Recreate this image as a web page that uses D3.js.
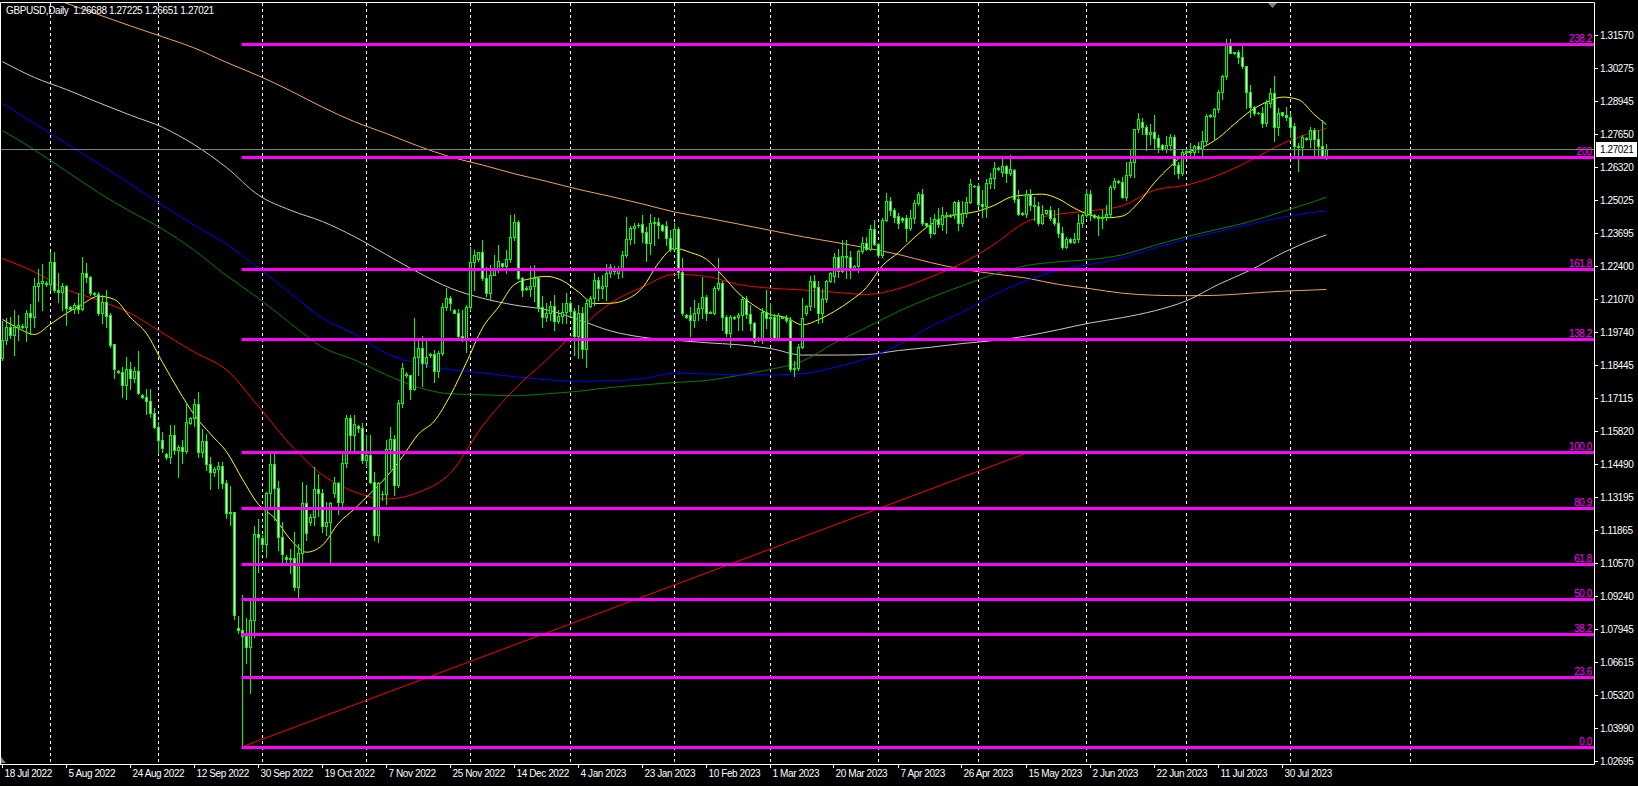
<!DOCTYPE html>
<html>
<head>
<meta charset="utf-8">
<script src="https://cdn.jsdelivr.net/npm/d3@7"></script>
<style>
  html, body { margin: 0; padding: 0; background: #000; overflow: hidden; }
  svg { display: block; }
  text { font-family: "Liberation Sans", Arial, sans-serif; font-size: 10px; letter-spacing: -0.4px; }
</style>
</head>
<body>
<svg id="chart"></svg>
<script>
// GBPUSD daily, 18 Jul 2022 .. 11 Aug 2023 (broker with sunday bars)
// each bar: [open, high, low, close]
const candles = [
  [1.1872,1.2020,1.1865,1.1945],[1.1945,1.2030,1.1930,1.1996],[1.1996,1.2035,1.1950,1.1963],[1.1963,1.2063,1.1884,1.1995],[1.1995,1.2045,1.1945,1.2003],
  [1.2000,1.2008,1.1990,1.1994],[1.1994,1.2063,1.1938,1.2050],[1.2050,1.2089,1.1967,1.2034],[1.2034,1.2189,1.1997,1.2158],[1.2158,1.2225,1.2100,1.2172],[1.2172,1.2248,1.2063,1.2180],
  [1.2170,1.2178,1.2160,1.2165],[1.2165,1.2295,1.2142,1.2255],[1.2255,1.2295,1.2136,1.2143],[1.2143,1.2209,1.2096,1.2133],[1.2133,1.2170,1.2063,1.2158],[1.2158,1.2162,1.2003,1.2070],
  [1.2075,1.2080,1.2062,1.2066],[1.2066,1.2092,1.2050,1.2082],[1.2082,1.2129,1.2050,1.2068],[1.2068,1.2275,1.2063,1.2211],[1.2211,1.2251,1.2175,1.2193],[1.2193,1.2198,1.2123,1.2132],
  [1.2127,1.2136,1.2122,1.2130],[1.2127,1.2136,1.2043,1.2052],[1.2052,1.2122,1.2010,1.2096],[1.2096,1.2142,1.1997,1.2039],[1.2043,1.2050,1.1917,1.1924],[1.1928,1.1930,1.1791,1.1827],
  [1.1820,1.1826,1.1812,1.1818],[1.1818,1.1837,1.1718,1.1765],[1.1765,1.1877,1.1711,1.1827],[1.1827,1.1857,1.1751,1.1791],[1.1791,1.1835,1.1777,1.1822],[1.1822,1.1901,1.1731,1.1734],
  [1.1725,1.1730,1.1712,1.1718],[1.1718,1.1748,1.1650,1.1700],[1.1700,1.1751,1.1638,1.1654],[1.1654,1.1672,1.1592,1.1596],[1.1596,1.1618,1.1493,1.1546],[1.1546,1.1580,1.1499,1.1513],
  [1.1490,1.1495,1.1470,1.1480],[1.1480,1.1605,1.1453,1.1566],[1.1566,1.1605,1.1489,1.1506],[1.1506,1.1527,1.1400,1.1520],[1.1520,1.1546,1.1453,1.1502],[1.1502,1.1692,1.1495,1.1619],
  [1.1615,1.1638,1.1610,1.1632],[1.1632,1.1710,1.1600,1.1689],[1.1689,1.1738,1.1479,1.1499],[1.1499,1.1589,1.1480,1.1542],[1.1542,1.1570,1.1425,1.1450],[1.1450,1.1480,1.1350,1.1420],
  [1.1420,1.1437,1.1404,1.1430],[1.1430,1.1458,1.1354,1.1441],[1.1441,1.1460,1.1354,1.1377],[1.1377,1.1387,1.1235,1.1255],[1.1255,1.1364,1.1208,1.1258],[1.1258,1.1261,1.0834,1.0850],
  [1.0800,1.0846,1.0778,1.0792],[1.0792,1.0930,1.0327,1.0768],[1.0768,1.0837,1.0658,1.0724],[1.0724,1.0910,1.0539,1.0830],[1.0830,1.1204,1.0762,1.1171],[1.1171,1.1231,1.1023,1.1160],
  [1.1155,1.1170,1.1110,1.1133],[1.1133,1.1341,1.1082,1.1337],[1.1337,1.1493,1.1281,1.1451],[1.1451,1.1496,1.1228,1.1354],[1.1354,1.1383,1.1109,1.1159],[1.1159,1.1222,1.1056,1.1092],
  [1.1082,1.1090,1.1060,1.1072],[1.1072,1.1112,1.1019,1.1076],[1.1076,1.1182,1.0950,1.0960],[1.0960,1.1133,1.0920,1.1098],[1.1098,1.1381,1.1056,1.1297],[1.1297,1.1367,1.1149,1.1175],
  [1.1222,1.1250,1.1210,1.1241],[1.1241,1.1440,1.1208,1.1350],[1.1350,1.1411,1.1242,1.1337],[1.1337,1.1350,1.1182,1.1204],[1.1204,1.1301,1.1168,1.1222],[1.1222,1.1301,1.1056,1.1297],
  [1.1334,1.1400,1.1320,1.1374],[1.1374,1.1381,1.1252,1.1301],[1.1301,1.1500,1.1271,1.1456],[1.1456,1.1646,1.1440,1.1635],[1.1635,1.1645,1.1500,1.1566],[1.1566,1.1645,1.1500,1.1610],
  [1.1600,1.1605,1.1580,1.1594],[1.1594,1.1613,1.1454,1.1467],[1.1467,1.1566,1.1441,1.1487],[1.1487,1.1566,1.1374,1.1381],[1.1381,1.1420,1.1148,1.1168],[1.1168,1.1380,1.1141,1.1374],
  [1.1330,1.1342,1.1308,1.1332],[1.1332,1.1547,1.1290,1.1509],[1.1509,1.1597,1.1430,1.1549],[1.1549,1.1566,1.1327,1.1367],[1.1367,1.1706,1.1360,1.1692],[1.1692,1.1852,1.1678,1.1832],
  [1.1810,1.1815,1.1798,1.1805],[1.1805,1.1805,1.1708,1.1748],[1.1748,1.2031,1.1745,1.1878],[1.1878,1.1938,1.1805,1.1911],[1.1911,1.1958,1.1759,1.1854],[1.1854,1.1944,1.1838,1.1878],
  [1.1885,1.1892,1.1876,1.1888],[1.1888,1.1905,1.1775,1.1822],[1.1822,1.1902,1.1798,1.1891],[1.1891,1.2090,1.1885,1.2077],[1.2077,1.2150,1.2064,1.2110],[1.2110,1.2119,1.2064,1.2090],
  [1.2063,1.2068,1.2050,1.2053],[1.2053,1.2066,1.1951,1.1958],[1.1958,1.2063,1.1938,1.1946],[1.1946,1.2084,1.1898,1.2074],[1.2074,1.2313,1.2064,1.2256],[1.2256,1.2302,1.2143,1.2282],
  [1.2265,1.2295,1.2260,1.2292],[1.2292,1.2342,1.2183,1.2190],[1.2190,1.2236,1.2120,1.2130],[1.2130,1.2243,1.2103,1.2203],[1.2203,1.2282,1.2203,1.2229],[1.2229,1.2322,1.2216,1.2260],
  [1.2250,1.2252,1.2236,1.2240],[1.2240,1.2302,1.2210,1.2265],[1.2265,1.2442,1.2256,1.2353],[1.2353,1.2446,1.2342,1.2415],[1.2415,1.2422,1.2186,1.2190],[1.2190,1.2196,1.2117,1.2143],
  [1.2150,1.2157,1.2141,1.2146],[1.2146,1.2238,1.2120,1.2158],[1.2158,1.2242,1.2100,1.2190],[1.2190,1.2195,1.2060,1.2074],[1.2074,1.2117,1.1995,1.2034],[1.2034,1.2090,1.2020,1.2050],
  [1.2050,1.2100,1.2024,1.2080],[1.2080,1.2123,1.1984,1.2021],[1.2021,1.2064,1.2011,1.2040],[1.2040,1.2090,1.2010,1.2057],[1.2057,1.2130,1.2011,1.2090],
  [1.2090,1.2100,1.2040,1.2061],[1.2061,1.2070,1.1885,1.1960],[1.1960,1.2085,1.1871,1.2053],[1.2053,1.2077,1.1871,1.1907],[1.1907,1.2103,1.1838,1.2090],
  [1.2080,1.2117,1.2075,1.2110],[1.2110,1.2210,1.2084,1.2183],[1.2183,1.2193,1.2103,1.2150],[1.2150,1.2203,1.2110,1.2157],[1.2157,1.2247,1.2103,1.2212],[1.2212,1.2247,1.2194,1.2233],
  [1.2225,1.2240,1.2207,1.2220],[1.2210,1.2239,1.2190,1.2223],[1.2223,1.2296,1.2194,1.2282],[1.2282,1.2432,1.2276,1.2345],[1.2345,1.2398,1.2326,1.2389],[1.2389,1.2411,1.2329,1.2398],
  [1.2400,1.2408,1.2395,1.2402],[1.2406,1.2442,1.2335,1.2375],[1.2375,1.2395,1.2260,1.2329],[1.2329,1.2446,1.2287,1.2408],[1.2408,1.2435,1.2322,1.2415],[1.2415,1.2428,1.2349,1.2403],
  [1.2400,1.2405,1.2379,1.2383],[1.2397,1.2419,1.2322,1.2349],[1.2349,1.2382,1.2296,1.2305],[1.2305,1.2408,1.2302,1.2385],[1.2385,1.2395,1.2190,1.2216],[1.2216,1.2269,1.2044,1.2050],
  [1.2044,1.2048,1.2030,1.2035],[1.2044,1.2077,1.1958,1.2024],[1.2024,1.2103,1.1997,1.2050],[1.2050,1.2090,1.2024,1.2070],[1.2070,1.2193,1.2030,1.2114],[1.2114,1.2124,1.2024,1.2053],
  [1.2050,1.2061,1.2050,1.2055],[1.2050,1.2160,1.2048,1.2150],[1.2150,1.2269,1.2143,1.2172],[1.2172,1.2180,1.1984,1.2037],[1.2037,1.2044,1.1958,1.1971],[1.1971,1.2044,1.1918,1.2037],
  [1.2035,1.2040,1.2028,1.2030],[1.2035,1.2052,1.1984,1.2045],[1.2045,1.2114,1.1984,1.2106],[1.2106,1.2117,1.2031,1.2048],[1.2048,1.2084,1.1984,1.2013],[1.2013,1.2017,1.1931,1.1938],
  [1.1945,1.1955,1.1940,1.1951],[1.1951,1.2071,1.1931,1.2057],[1.2057,1.2143,1.1990,1.2030],[1.2030,1.2090,1.1951,1.2037],[1.2037,1.2047,1.1944,1.1947],[1.1947,1.2050,1.1944,1.2044],
  [1.2035,1.2040,1.2030,1.2032],[1.2032,1.2045,1.2015,1.2025],[1.2025,1.2037,1.1820,1.1830],[1.1830,1.1860,1.1802,1.1834],[1.1834,1.1930,1.1825,1.1918],[1.1918,1.2110,1.1911,1.2030],
  [1.2050,1.2085,1.2045,1.2080],[1.2080,1.2199,1.2064,1.2180],[1.2180,1.2203,1.2077,1.2154],[1.2154,1.2180,1.2010,1.2053],[1.2053,1.2146,1.2017,1.2106],[1.2106,1.2183,1.2097,1.2180],
  [1.2180,1.2215,1.2175,1.2212],[1.2200,1.2289,1.2176,1.2276],[1.2276,1.2305,1.2196,1.2220],[1.2220,1.2342,1.2216,1.2278],[1.2278,1.2342,1.2190,1.2275],[1.2275,1.2296,1.2190,1.2225],
  [1.2230,1.2243,1.2225,1.2239],[1.2239,1.2302,1.2216,1.2296],[1.2296,1.2353,1.2289,1.2329],[1.2329,1.2353,1.2302,1.2305],[1.2305,1.2402,1.2302,1.2384],[1.2384,1.2422,1.2322,1.2326],
  [1.2326,1.2330,1.2275,1.2282],[1.2282,1.2428,1.2276,1.2421],[1.2421,1.2528,1.2419,1.2498],[1.2498,1.2514,1.2441,1.2459],[1.2459,1.2468,1.2415,1.2435],[1.2437,1.2448,1.2388,1.2411],
  [1.2428,1.2432,1.2415,1.2420],[1.2428,1.2441,1.2339,1.2388],[1.2388,1.2461,1.2382,1.2428],[1.2428,1.2501,1.2408,1.2490],[1.2490,1.2534,1.2481,1.2525],[1.2525,1.2544,1.2402,1.2411],
  [1.2408,1.2410,1.2398,1.2402],[1.2402,1.2435,1.2353,1.2371],[1.2371,1.2445,1.2366,1.2424],[1.2424,1.2468,1.2392,1.2406],[1.2406,1.2472,1.2382,1.2441],[1.2441,1.2455,1.2368,1.2438],
  [1.2440,1.2445,1.2432,1.2436],[1.2445,1.2498,1.2428,1.2494],[1.2494,1.2501,1.2382,1.2411],[1.2411,1.2498,1.2398,1.2448],[1.2448,1.2514,1.2435,1.2494],[1.2494,1.2583,1.2490,1.2565],
  [1.2558,1.2562,1.2552,1.2555],[1.2557,1.2570,1.2477,1.2485],[1.2485,1.2541,1.2435,1.2478],[1.2478,1.2583,1.2435,1.2567],[1.2567,1.2610,1.2550,1.2590],[1.2590,1.2650,1.2547,1.2627],
  [1.2628,1.2632,1.2622,1.2625],[1.2612,1.2666,1.2596,1.2636],[1.2636,1.2640,1.2573,1.2609],[1.2609,1.2680,1.2600,1.2625],[1.2622,1.2626,1.2494,1.2503],[1.2503,1.2540,1.2441,1.2445],
  [1.2448,1.2452,1.2440,1.2445],[1.2445,1.2540,1.2434,1.2524],[1.2524,1.2543,1.2461,1.2481],[1.2481,1.2514,1.2421,1.2478],[1.2478,1.2494,1.2401,1.2408],[1.2408,1.2481,1.2405,1.2445],
  [1.2450,1.2462,1.2445,1.2460],[1.2461,1.2475,1.2420,1.2431],[1.2431,1.2461,1.2400,1.2410],[1.2410,1.2467,1.2355,1.2368],[1.2368,1.2395,1.2305,1.2312],[1.2312,1.2355,1.2308,1.2344],
  [1.2344,1.2350,1.2328,1.2335],[1.2335,1.2368,1.2328,1.2344],[1.2344,1.2445,1.2335,1.2408],[1.2408,1.2447,1.2395,1.2441],[1.2441,1.2543,1.2434,1.2524],[1.2524,1.2540,1.2421,1.2445],
  [1.2441,1.2445,1.2428,1.2432],[1.2432,1.2441,1.2362,1.2428],[1.2428,1.2461,1.2388,1.2435],[1.2435,1.2481,1.2421,1.2445],[1.2445,1.2560,1.2434,1.2553],[1.2553,1.2587,1.2543,1.2577],
  [1.2575,1.2580,1.2568,1.2572],[1.2572,1.2593,1.2508,1.2511],[1.2511,1.2653,1.2500,1.2600],[1.2600,1.2700,1.2594,1.2650],[1.2650,1.2785,1.2594,1.2782],[1.2782,1.2848,1.2770,1.2822],
  [1.2812,1.2825,1.2762,1.2790],[1.2790,1.2800,1.2700,1.2763],[1.2763,1.2802,1.2722,1.2770],[1.2770,1.2839,1.2706,1.2748],[1.2748,1.2760,1.2690,1.2713],
  [1.2718,1.2725,1.2700,1.2705],[1.2705,1.2755,1.2690,1.2718],[1.2718,1.2765,1.2700,1.2750],[1.2750,1.2760,1.2605,1.2640],[1.2640,1.2650,1.2590,1.2610],[1.2610,1.2700,1.2600,1.2690],
  [1.2695,1.2700,1.2685,1.2690],[1.2690,1.2727,1.2680,1.2693],[1.2693,1.2720,1.2675,1.2716],[1.2716,1.2730,1.2690,1.2705],[1.2705,1.2777,1.2672,1.2737],[1.2737,1.2843,1.2724,1.2835],
  [1.2838,1.2843,1.2830,1.2834],[1.2834,1.2866,1.2742,1.2862],[1.2862,1.2939,1.2852,1.2932],[1.2932,1.2999,1.2901,1.2992],[1.2992,1.3141,1.2981,1.3124],[1.3127,1.3141,1.3084,1.3087],
  [1.3088,1.3091,1.3080,1.3084],[1.3088,1.3098,1.3047,1.3068],[1.3068,1.3121,1.3025,1.3034],[1.3034,1.3034,1.2866,1.2932],[1.2932,1.2958,1.2832,1.2870],[1.2870,1.2875,1.2839,1.2848],
  [1.2848,1.2852,1.2842,1.2845],[1.2848,1.2872,1.2793,1.2808],[1.2808,1.2899,1.2795,1.2888],[1.2888,1.2945,1.2870,1.2925],[1.2925,1.2994,1.2737,1.2790],[1.2790,1.2865,1.2760,1.2846],
  [1.2852,1.2852,1.2835,1.2840],[1.2840,1.2869,1.2819,1.2830],[1.2830,1.2846,1.2750,1.2793],[1.2795,1.2806,1.2680,1.2716],[1.2716,1.2727,1.2618,1.2712],[1.2712,1.2760,1.2680,1.2750],
  [1.2745,1.2753,1.2740,1.2748],[1.2743,1.2790,1.2713,1.2779],[1.2779,1.2786,1.2680,1.2743],[1.2743,1.2779,1.2680,1.2716],[1.2716,1.2819,1.2666,1.2669],[1.26688,1.27225,1.26651,1.27021]
];

// moving averages, [bar index, price]
const maYellow = [[0,1.2026],[4,1.1990],[8,1.1966],[12,1.2007],[16,1.2050],[20,1.2087],[24,1.2118],[28,1.2105],[32,1.2033],[36,1.1970],[40,1.1855],[44,1.1745],[48,1.1645],[52,1.1570],[56,1.1500],[60,1.1390],[64,1.1290],[68,1.1236],[72,1.1150],[76,1.1100],[80,1.1128],[84,1.1215],[88,1.1272],[92,1.1335],[96,1.1400],[100,1.1480],[104,1.1570],[108,1.1622],[112,1.1725],[116,1.1855],[120,1.1992],[124,1.2075],[128,1.2165],[132,1.2188],[136,1.2197],[140,1.2180],[144,1.2135],[148,1.2089],[152,1.2090],[156,1.2105],[160,1.2152],[164,1.2250],[168,1.2309],[172,1.2292],[176,1.2265],[180,1.2200],[184,1.2130],[188,1.2080],[192,1.2045],[196,1.2033],[200,1.2004],[204,1.2025],[208,1.2058],[212,1.2100],[216,1.2153],[220,1.2240],[224,1.2292],[228,1.2352],[232,1.2403],[236,1.2435],[240,1.2445],[244,1.2457],[248,1.2480],[252,1.2512],[256,1.2521],[260,1.2524],[264,1.2505],[268,1.2468],[272,1.2440],[276,1.2430],[280,1.2437],[284,1.2490],[288,1.2570],[292,1.2635],[296,1.2688],[300,1.2710],[304,1.2748],[308,1.2803],[312,1.2855],[316,1.2890],[320,1.2910],[324,1.2900],[328,1.2840],[331,1.2800]];
const maRed = [[0,1.2268],[8,1.2215],[16,1.2145],[24,1.2102],[32,1.2050],[40,1.1972],[48,1.1895],[56,1.1825],[64,1.1680],[72,1.1527],[80,1.1408],[88,1.1340],[96,1.1312],[104,1.1338],[112,1.1415],[120,1.1602],[128,1.1748],[136,1.1865],[144,1.1985],[152,1.2090],[160,1.2155],[168,1.2205],[176,1.2197],[184,1.2165],[192,1.2150],[200,1.2143],[208,1.2134],[216,1.2125],[224,1.2148],[232,1.2194],[240,1.2250],[248,1.2325],[256,1.2414],[264,1.2444],[272,1.2458],[280,1.2478],[288,1.2540],[296,1.2560],[304,1.2600],[312,1.2658],[320,1.2725],[328,1.2772],[331,1.2786]];
const maGreen = [[0,1.2777],[8,1.2700],[16,1.2615],[24,1.2530],[32,1.2455],[40,1.2385],[48,1.2300],[56,1.2200],[64,1.2110],[72,1.2010],[80,1.1915],[88,1.1865],[96,1.1805],[104,1.1755],[112,1.1730],[120,1.1726],[128,1.1722],[136,1.1730],[144,1.1740],[152,1.1755],[160,1.1765],[168,1.1775],[176,1.1783],[184,1.1803],[192,1.1827],[200,1.1860],[208,1.1932],[216,1.1994],[224,1.2058],[232,1.2112],[240,1.2160],[248,1.2206],[256,1.2240],[264,1.2255],[272,1.2264],[280,1.2283],[288,1.2320],[296,1.2355],[304,1.2385],[312,1.2415],[320,1.2455],[328,1.2495],[331,1.2512]];
const maBlue = [[0,1.2885],[8,1.2805],[16,1.2725],[24,1.2645],[32,1.2565],[40,1.2480],[48,1.2400],[56,1.2325],[64,1.2230],[72,1.2130],[80,1.2030],[88,1.1968],[96,1.1890],[104,1.1850],[112,1.1826],[120,1.1813],[128,1.1798],[136,1.1786],[144,1.1780],[152,1.1782],[160,1.1790],[168,1.1812],[176,1.1809],[184,1.1805],[192,1.1805],[200,1.1810],[208,1.1835],[216,1.1870],[224,1.1925],[232,1.1997],[240,1.2055],[248,1.2125],[256,1.2180],[264,1.2222],[272,1.2245],[280,1.2270],[288,1.2310],[296,1.2345],[304,1.2375],[312,1.2405],[320,1.2432],[328,1.2452],[331,1.2457]];
const maSilver = [[0,1.3051],[8,1.2988],[16,1.2940],[24,1.2888],[32,1.2838],[40,1.2790],[48,1.2720],[56,1.2630],[64,1.2520],[72,1.2460],[80,1.2415],[88,1.2355],[96,1.2283],[104,1.2212],[112,1.2150],[120,1.2110],[128,1.2083],[136,1.2064],[144,1.2025],[152,1.1980],[160,1.1955],[168,1.1943],[176,1.1933],[184,1.1925],[192,1.1910],[200,1.1884],[208,1.1884],[216,1.1886],[224,1.1902],[232,1.1915],[240,1.1930],[248,1.1942],[256,1.1960],[264,1.1985],[272,1.2012],[280,1.2033],[288,1.2060],[296,1.2100],[304,1.2165],[312,1.2222],[320,1.2290],[328,1.2345],[331,1.2362]];
const maSandy = [[0,1.3374],[8,1.3328],[16,1.3283],[24,1.3238],[32,1.3193],[40,1.3150],[48,1.3105],[56,1.3048],[64,1.2995],[72,1.2935],[80,1.2870],[88,1.2812],[96,1.2765],[104,1.2715],[112,1.2672],[120,1.2640],[128,1.2605],[136,1.2575],[144,1.2543],[152,1.2515],[160,1.2485],[168,1.2453],[176,1.2430],[184,1.2405],[192,1.2380],[200,1.2355],[208,1.2333],[216,1.2310],[224,1.2284],[232,1.2252],[240,1.2225],[248,1.2207],[256,1.2190],[264,1.2165],[272,1.2148],[280,1.2130],[288,1.2122],[296,1.2120],[304,1.2122],[312,1.2130],[320,1.2138],[328,1.2143],[331,1.2145]];

// fibonacci object
const fibLow = 1.03264, fibHigh = 1.14997;
const fibStartBar = 60, fibEndBar = 257;
const fibLevels = [0, 23.6, 38.2, 50, 61.8, 80.9, 100, 138.2, 161.8, 200, 238.2];
const fibTexts = ["0.0", "23.6", "38.2", "50.0", "61.8", "80.9", "100.0", "138.2", "161.8", "200", "238.2"];

const priceTicks = ["1.31570","1.30275","1.28945","1.27650","1.26320","1.25025","1.23695","1.22400","1.21070","1.19740","1.18445","1.17115","1.15820","1.14490","1.13195","1.11865","1.10570","1.09240","1.07945","1.06615","1.05320","1.03990","1.02695"];

const dateTexts = ["18 Jul 2022","5 Aug 2022","24 Aug 2022","12 Sep 2022","30 Sep 2022","19 Oct 2022","7 Nov 2022","25 Nov 2022","14 Dec 2022","4 Jan 2023","23 Jan 2023","10 Feb 2023","1 Mar 2023","20 Mar 2023","7 Apr 2023","26 Apr 2023","15 May 2023","2 Jun 2023","22 Jun 2023","11 Jul 2023","30 Jul 2023"];
const dateBars = [0,16,32,48,64,80,96,112,128,144,160,176,192,208,224,240,256,272,288,304,320];

// first bar of each month -> vertical grid
const monthBars = [12,39,65,91,117,142,168,192,219,244,271,296,322,352];

const bid = 1.27021;
const title = "GBPUSD,Daily  1.26688 1.27225 1.26651 1.27021";

const W = 1638, H = 786;
const plotRight = 1594, plotTop = 2, plotBottom = 764;

const svg = d3.select("#chart").attr("width", W).attr("height", H)
    .style("background", "#000");

const x = d3.scaleLinear().domain([0, 331]).range([2.5, 1326.5]);
const y = d3.scaleLinear().domain([1.02695, 1.31570]).range([761, 35]);

svg.append("defs").append("clipPath").attr("id", "plot")
  .append("rect").attr("x", 0).attr("y", plotTop).attr("width", plotRight).attr("height", plotBottom - plotTop);

// vertical grid
svg.append("g").selectAll("line").data(monthBars).enter().append("line")
    .attr("x1", d => x(d)).attr("x2", d => x(d))
    .attr("y1", plotTop + 1).attr("y2", plotBottom)
    .attr("stroke", "#fff").attr("stroke-dasharray", "3,3");

const plot = svg.append("g").attr("clip-path", "url(#plot)");

// moving averages
const line = d3.line().x(d => x(d[0])).y(d => y(d[1])).curve(d3.curveMonotoneX);
const mas = [
  {d: maSandy, c: "#f4a460"},
  {d: maSilver, c: "#c8c8c8"},
  {d: maGreen, c: "#008000"},
  {d: maBlue, c: "#0000ff"},
  {d: maRed, c: "#ff0000"},
  {d: maYellow, c: "#ffff00"}
];
mas.forEach(m => {
  plot.append("path").attr("d", line(m.d))
    .attr("fill", "none").attr("stroke", m.c).attr("stroke-width", 1);
});

// fib trend line
plot.append("line")
    .attr("x1", x(fibStartBar)).attr("y1", y(fibLow))
    .attr("x2", x(fibEndBar)).attr("y2", y(fibHigh))
    .attr("stroke", "#ff0000").attr("stroke-width", 1);

// candles
const cg = plot.append("g");
candles.forEach((k, i) => {
  const [o, h, l, c] = k;
  const cx = x(i);
  const yo = Math.round(y(o)), yc = Math.round(y(c));
  const yh = Math.round(y(h)), yl = Math.round(y(l));
  cg.append("line").attr("x1", cx).attr("x2", cx).attr("y1", yh).attr("y2", yl + 1)
    .attr("stroke", "#00ff00");
  const top = Math.min(yo, yc), bot = Math.max(yo, yc);
  if (bot - top < 1) {
    cg.append("line").attr("x1", cx - 1.5).attr("x2", cx + 1.5)
      .attr("y1", top + 0.5).attr("y2", top + 0.5).attr("stroke", "#00ff00");
  } else {
    cg.append("rect").attr("x", cx - 1).attr("y", top + 0.5)
      .attr("width", 2).attr("height", bot - top)
      .attr("fill", c > o ? "#000" : "#fff")
      .attr("stroke", "#00ff00");
  }
});

// bid line
const yb = Math.round(y(bid)) + 0.5;
svg.append("line").attr("x1", 0).attr("x2", plotRight).attr("y1", yb).attr("y2", yb)
    .attr("stroke", "#808080");

// fib levels
const fg = svg.append("g");
fibLevels.forEach((lv, j) => {
  const fy = Math.round(y(fibLow + lv / 100 * (fibHigh - fibLow))) + 0.5;
  fg.append("line").attr("x1", x(fibStartBar) - 1).attr("x2", plotRight)
    .attr("y1", fy).attr("y2", fy)
    .attr("stroke", "#ff00ff").attr("stroke-width", 3);
  fg.append("text").attr("x", plotRight - 2).attr("y", fy - 3)
    .attr("text-anchor", "end").attr("fill", "#ff00ff")
    .text(fibTexts[j]);
});

// frame
svg.append("path")
    .attr("d", `M0.5,${plotBottom + 0.5}V${plotTop + 0.5}H${plotRight + 0.5}V${plotBottom + 0.5}H0`)
    .attr("fill", "none").attr("stroke", "#fff");

// price axis
const pa = svg.append("g");
priceTicks.forEach(t => {
  const ty = Math.round(y(+t)) + 0.5;
  pa.append("line").attr("x1", plotRight).attr("x2", plotRight + 4)
    .attr("y1", ty).attr("y2", ty).attr("stroke", "#fff");
  pa.append("text").attr("x", plotRight + 6).attr("y", ty + 3.5)
    .attr("fill", "#fff").text(t);
});

// bid label
pa.append("rect").attr("x", plotRight + 2).attr("y", yb - 7.5)
    .attr("width", 41).attr("height", 15).attr("fill", "#fff");
pa.append("text").attr("x", plotRight + 6).attr("y", yb + 3.5)
    .attr("fill", "#000").text(bid.toFixed(5));

// time axis
const ta = svg.append("g");
dateBars.forEach((b, j) => {
  const tx = Math.round(x(b)) - 0.5;
  ta.append("line").attr("x1", tx).attr("x2", tx)
    .attr("y1", plotBottom).attr("y2", plotBottom + 4).attr("stroke", "#fff");
  ta.append("text").attr("x", tx + 2).attr("y", plotBottom + 13)
    .attr("fill", "#fff").text(dateTexts[j]);
});

// title
svg.append("text").attr("x", 6).attr("y", 14)
    .attr("fill", "#fff").style("white-space", "pre").text(title);

// small chart markers
svg.append("path").attr("d", "M1268,3H1277L1272.5,8Z").attr("fill", "#808080");
svg.append("path").attr("d", "M1,757V763H6Z").attr("fill", "#808080");
</script>
</body>
</html>
